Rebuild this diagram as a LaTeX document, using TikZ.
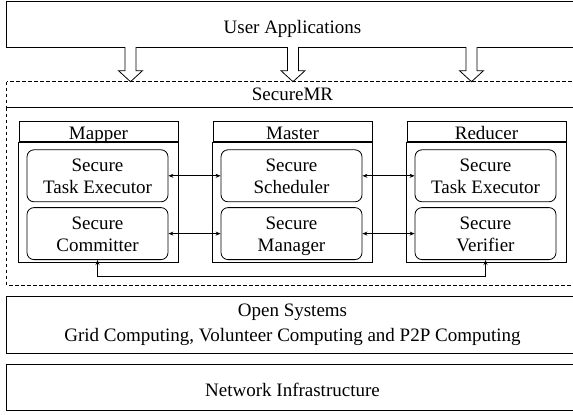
\documentclass[tikz,border=0pt]{standalone}
\usepackage{fontspec}
\setmainfont{Liberation Serif}
\usetikzlibrary{arrows.meta,positioning}

\begin{document}
\begin{tikzpicture}[x=1pt, y=-1pt,
      every node/.style={font=\fontsize{19}{22}\selectfont},
      layer/.style={minimum width=571pt, align=center, inner sep=0pt, text depth=0pt},
      rim/.style={line width=0.8pt},
      dashbox/.style={line width=0.7pt, dash pattern=on 3.5pt off 2.5pt},
      head/.style={draw, line width=0.8pt, minimum width=159pt, minimum height=20pt,
                   inner sep=0pt, text height=15pt, text depth=0pt},
      unit/.style={draw, rounded corners=7pt, line width=0.8pt, minimum width=141pt,
                   minimum height=52pt, align=center, inner sep=0pt,
                   text height=35pt, text depth=0pt},
      dbl/.style={{Stealth[length=5pt,width=4pt]}-{Stealth[length=5pt,width=4pt]}, line width=0.7pt},
      blockarr/.style={line width=0.8pt, fill=white},
      node distance=7.3pt
    ]
      \useasboundingbox (0,0) rectangle (573,415);
      \clip (0,0) rectangle (573,415);

      % layers (right side runs off the page)
      \node[layer, minimum height=45pt, text height=18pt] (user) at (292.5,24.2) {User Applications};
      \node[layer, minimum height=25.6pt, text height=12.4pt] (smr) at (292.5,94.5) {SecureMR};
      \node[layer, minimum height=56pt, text height=32pt, font=\fontsize{19}{25}\selectfont] (open) at (292.5,325)
        {Open Systems\\Grid Computing, Volunteer Computing and P2P Computing};
      \node[layer, minimum height=45.7pt, text height=18pt] (net) at (292.5,387.2) {Network Infrastructure};
      \foreach \l in {user,open,net}
        \draw[rim] (\l.north west) rectangle ([xshift=30pt]\l.south east);
      \draw[dashbox] (smr.north west) rectangle ([xshift=30pt]smr.south east);
      \draw[dashbox] (smr.south west) rectangle ([xshift=30pt]smr.east |- 0,285);

      % hollow arrows into SecureMR
      \foreach \x in {130.5,293,471.5}
        \draw[blockarr] (\x-5.5,47) -- (\x-5.5,70.7) -- (\x-12,70.7) -- (\x,81.7)
          -- (\x+12,70.7) -- (\x+5.5,70.7) -- (\x+5.5,47);

      % components
      \node[head] (maphd) at (98.5,131.7) {Mapper};
      \node[head] (masthd) at (292.5,131.7) {Master};
      \node[head] (redhd) at (486.5,131.7) {Reducer};
      \foreach \h in {maphd,masthd,redhd}
        \draw[rim] (\h.south west) rectangle (\h.south east |- 0,262);

      \node[unit, below=of maphd, xshift=-1pt] (mexec) {Secure\\Task Executor};
      \node[unit, below=5pt of mexec] (mcomm) {Secure\\Committer};
      \node[unit, below=of masthd, xshift=-1pt] (msched) {Secure\\Scheduler};
      \node[unit, below=5pt of msched] (mmanage) {Secure\\Manager};
      \node[unit, below=of redhd, xshift=-1pt] (rexec) {Secure\\Task Executor};
      \node[unit, below=5pt of rexec] (rverif) {Secure\\Verifier};

      \draw[dbl] (mexec) -- (msched);
      \draw[dbl] (msched) -- (rexec);
      \draw[dbl] (mcomm) -- (mmanage);
      \draw[dbl] (mmanage) -- (rverif);
      \draw[dbl] (mcomm.south) -- ++(0,16) -| (rverif.south);
    \end{tikzpicture}
\end{document}
